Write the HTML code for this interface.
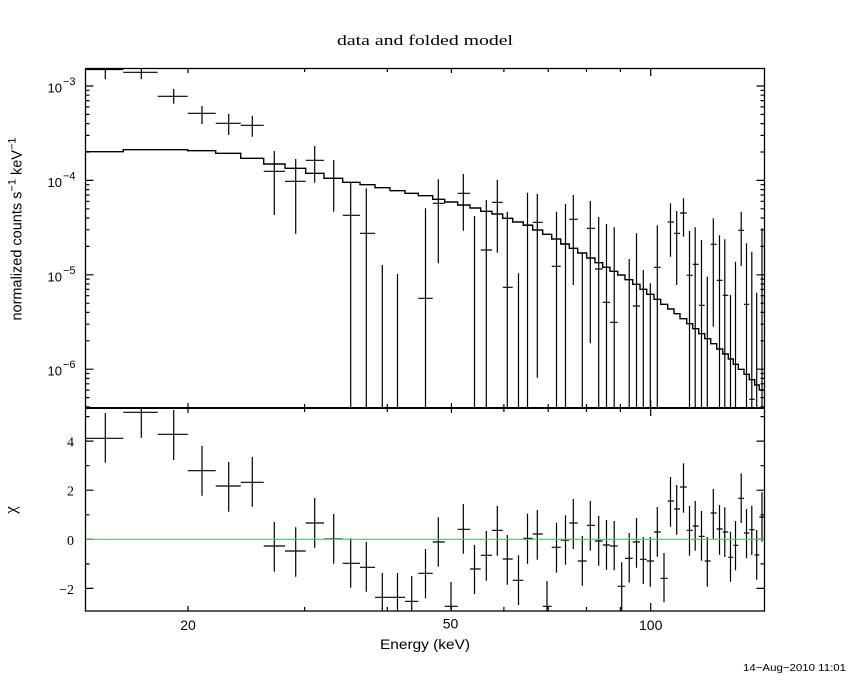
<!DOCTYPE html>
<html>
<head>
<meta charset="utf-8">
<style>
html,body{margin:0;padding:0;background:#fff;}
svg{display:block;}
text{font-family:"Liberation Sans",sans-serif;fill:#000;}
.serif{font-family:"Liberation Serif",serif;}
</style>
</head>
<body>
<svg width="850" height="680" viewBox="0 0 850 680" xmlns="http://www.w3.org/2000/svg">
<rect x="0" y="0" width="850" height="680" fill="#fff"/>

<text class="serif" x="425" y="45" text-anchor="middle" font-size="15" textLength="176" lengthAdjust="spacingAndGlyphs">data and folded model</text>

<g fill="none" stroke="#000">
<rect x="85.5" y="68.5" width="679" height="542.5" stroke-width="1.3"/>
<line x1="85.5" y1="408" x2="764.5" y2="408" stroke-width="2"/>
</g>

<g fill="none" stroke="#000" stroke-width="1.2">
<path d="M85.5 86h8M85.5 180.4h8M85.5 274.8h8M85.5 369.2h8"/>
<path d="M85.5 152h4M85.5 135.4h4M85.5 123.6h4M85.5 114.4h4M85.5 106.9h4M85.5 100.6h4M85.5 95.2h4M85.5 90.3h4M85.5 246.4h4M85.5 229.8h4M85.5 218h4M85.5 208.8h4M85.5 201.3h4M85.5 195h4M85.5 189.6h4M85.5 184.7h4M85.5 340.8h4M85.5 324.2h4M85.5 312.4h4M85.5 303.2h4M85.5 295.7h4M85.5 289.4h4M85.5 284h4M85.5 279.1h4M85.5 406.8h4M85.5 397.6h4M85.5 390.1h4M85.5 383.8h4M85.5 378.4h4M85.5 373.5h4"/>
<path d="M764.5 86h-8M764.5 180.4h-8M764.5 274.8h-8M764.5 369.2h-8"/>
<path d="M764.5 152h-4M764.5 135.4h-4M764.5 123.6h-4M764.5 114.4h-4M764.5 106.9h-4M764.5 100.6h-4M764.5 95.2h-4M764.5 90.3h-4M764.5 246.4h-4M764.5 229.8h-4M764.5 218h-4M764.5 208.8h-4M764.5 201.3h-4M764.5 195h-4M764.5 189.6h-4M764.5 184.7h-4M764.5 340.8h-4M764.5 324.2h-4M764.5 312.4h-4M764.5 303.2h-4M764.5 295.7h-4M764.5 289.4h-4M764.5 284h-4M764.5 279.1h-4M764.5 406.8h-4M764.5 397.6h-4M764.5 390.1h-4M764.5 383.8h-4M764.5 378.4h-4M764.5 373.5h-4"/>
<path d="M85.5 441.1h8M85.5 490.2h8M85.5 539.3h8M85.5 588.4h8M85.5 416.6h4M85.5 465.7h4M85.5 514.8h4M85.5 563.9h4"/>
<path d="M764.5 441.1h-8M764.5 490.2h-8M764.5 539.3h-8M764.5 588.4h-8M764.5 416.6h-4M764.5 465.7h-4M764.5 514.8h-4M764.5 563.9h-4"/>
<path d="M188 68v5M304.6 68v4M387.3 68v4M451.4 68v5M503.9 68v4M548.2 68v4M586.5 68v4M620.4 68v4M650.7 68v8"/>
<path d="M188 403v10M304.6 404v8M387.3 404v8M451.4 403v10M503.9 404v8M548.2 404v8M586.5 404v8M620.4 404v8M650.7 400v16"/>
<path d="M188 611v-5M304.6 611v-4M387.3 611v-4M451.4 611v-5M503.9 611v-4M548.2 611v-4M586.5 611v-4M620.4 611v-4M650.7 611v-8"/>
</g>

<path fill="none" stroke="#000" stroke-width="1.4" d="M85.5 151.7H123.3V149.7H187.7V150.7H215.7V153.3H240.7V158.3H263.7V164H285V168.3H305.7V173.3H324V178.3H342.7V182.3H360V184.7H375V187.7H390V190.7H405V193.3H418.3V195.7H432.7V199.3H444.7V202H457.7V205H470V208H480.7V211.3H492V214H502.7V218.3H512.7V222H523.3V225.3H532.7V230H542.7V234.3H551.7V239H560.7V244H569.3V248.3H577.7V253H586.7V258H595V262.7H602.7V267.3H610V271.3H617.7V275H625V279.7H632.7V284.3H640V289.3H646.7V294.3H654V299.3H660.7V304.3H667.7V309H674V313.7H680V318.7H686.7V323.7H692.7V328.7H698.7V333.7H704.7V338.7H710.7V343.7H716.7V349H722.7V354H728.3V359H733.3V364.3H738.3V369.3H744V374.3H749.3V379.7H754.7V385H759.3V390H764.5"/>

<path fill="none" stroke="#000" stroke-width="1.2" d="M85.5 69.5H123.3M105.3 68V79.3M123.3 72.3H157.7M141.3 68V79.3M157.7 96.3H187.7M173.7 89V103.7M187.7 113.3H215.7M202 106V124M215.7 123.3H240.7M228.7 114V135M240.7 125.3H263.7M252.3 116V136.7M263.7 171.3H285M274.3 151V215M285 181.3H305.7M295.7 159V233.7M305.7 160.3H324M314.7 146V182.7M324 178.3H342.7M333.7 160V211.7M342.7 215.3H360M350.7 181.7V408M360 233.3H375M366.3 188.3V408M382.3 265V408M397.5 274V408M418.3 298.3H432.7M425.5 208.3V408M432.7 203.3H444.7M438.3 179.3V263.3M457.7 193.3H470M463.3 174V230.7M474.5 216V408M480.7 250H492M486.3 200V408M492 202.3H502.7M497.3 180V252.7M502.7 287.3H512.7M507.3 211.7V408M518.5 273.3V408M523.3 225H532.7M527.5 192.7V408M532.7 222.3H542.7M537.3 194V377.7M551.7 266.3H560.7M556.5 211.7V408M560.7 244H569.3M565.5 204V408M569.3 219.3H577.7M573.3 195V285M582.3 252.3V408M586.7 228.3H595M590.3 201V343.3M595 269H602.7M598.7 217V408M602.7 302.3H610M606.5 224V408M610 322.3H617.7M614.2 227.3V408M629.2 259V408M632.7 306H640M636.5 233.3V408M643.3 270V408M650.3 283.3V408M654 267.3H660.7M657.3 225.3V408M667.7 222H674M670.5 203.3V256.7M674 233.3H680M676.7 211V285M680 213H686.7M683.5 198.3V236.7M686.7 275.3H692.7M689.5 231V408M692.7 264.3H698.7M695.2 227.3V408M698.7 305.3H704.7M701.5 240V408M707.3 276.7V408M710.7 244.3H716.7M713.3 218.3V326.7M716.7 280.3H722.7M719.5 235.3V408M722.7 295.3H728.3M724.8 239.3V408M730.5 295V408M735.5 261.7V408M738.3 230.3H744M741.2 211.7V266M744 304.3H749.3M746.5 243.3V408M749.3 399.3H754.7M751.8 251.7V408M756.7 292.7V408M762 228.3V408"/>

<path fill="none" stroke="#000" stroke-width="1.2" d="M85.5 438.3H123.3M105.3 413V462.7M123.3 412.3H157.7M141.3 408V437.7M157.7 434.3H187.7M173.7 410V460M187.7 470.7H215.7M202 446V495.7M215.7 486H240.7M228.7 462V511.7M240.7 482.3H263.7M252.3 457V506.7M263.7 546H285M274.3 522V571.7M285 551H305.7M295.7 527.3V576.7M305.7 523H324M314.7 498V547.7M324 539H342.7M333.7 514V563.7M342.7 563.3H360M350.7 538.3V587.7M360 567.3H375M366.3 542V591.7M375 597.3H390M382.3 573V611M390 597.3H405M397.5 573V611M405 601.3H418.3M411.7 576V611M418.3 573.3H432.7M425.5 549V598.3M432.7 542H444.7M438.3 517.3V566.7M444.7 606.3H457.7M451 582V611M457.7 529.3H470M463.3 504V553.7M470 569H480.7M474.5 545V594M480.7 555.3H492M486.3 531V580.7M492 530.3H502.7M497.3 506V555.7M502.7 559H512.7M507.3 535V584.7M512.7 580.3H523.3M518.5 555.3V605M523.3 538.3H532.7M527.5 513.7V563.7M532.7 534H542.7M537.3 510V559.7M542.7 606.3H551.7M547 581V611M551.7 547.3H560.7M556.5 522.7V572.7M560.7 540H569.3M565.5 515.3V564.7M569.3 523H577.7M573.3 499V549M577.7 561H586.7M582.3 536V585.7M586.7 525.3H595M590.3 501V550.7M595 541H602.7M598.7 516V565.7M602.7 545H610M606.5 520V569.7M610 546H617.7M614.2 521V570.3M617.7 586.3H625M621.7 562.3V611M625 558.3H632.7M629.2 533V582.7M632.7 542H640M636.5 518V567.7M640 559.3H646.7M643.3 537V584M646.7 561H654M650.3 537V586.7M654 532H660.7M657.3 507V556.7M660.7 578.3H667.7M664 553V602.3M667.7 501H674M670.5 477V526.7M674 509H680M676.7 485V534.7M680 487H686.7M683.5 463.3V512.7M686.7 530.3H692.7M689.5 506V555.7M692.7 526H698.7M695.2 501V550.7M698.7 536.3H704.7M701.5 511V560.7M704.7 561H710.7M707.3 537V586.7M710.7 513H716.7M713.3 489V538.7M716.7 529H722.7M719.5 505V554.7M722.7 532H728.3M724.8 507.3V557M728.3 557.3H733.3M730.5 531.7V581.7M733.3 545.3H738.3M735.5 521V570.3M738.3 498.3H744M741.2 473.3V523M744 533H749.3M746.5 509V558.3M749.3 529.7H754.7M751.8 505.7V555M754.7 555H759.3M756.7 530V579.7M759.3 517H764.5M762 492.3V541.7"/>

<line x1="86" y1="539.3" x2="764" y2="539.3" stroke="#00ff00" stroke-width="1.2"/>

<g font-size="13">
<text x="62" y="92.5" text-anchor="end">10</text><text x="63" y="85" font-size="11">−3</text>
<text x="62" y="186.9" text-anchor="end">10</text><text x="63" y="179.4" font-size="11">−4</text>
<text x="62" y="281.3" text-anchor="end">10</text><text x="63" y="273.8" font-size="11">−5</text>
<text x="62" y="375.7" text-anchor="end">10</text><text x="63" y="368.2" font-size="11">−6</text>
</g>

<g font-size="14" text-anchor="end">
<text class="serif" x="74" y="446.6">4</text>
<text class="serif" x="74" y="495.7">2</text>
<text class="serif" x="74" y="544.8">0</text>
<text class="serif" x="74" y="593.9">−2</text>
</g>

<text transform="translate(21.5,229) rotate(-90)" text-anchor="middle" font-size="14.5">normalized counts s<tspan dy="-6" font-size="11">−1</tspan><tspan dy="6">  keV</tspan><tspan dy="-6" font-size="11">−1</tspan></text>
<text class="serif" transform="translate(16,510) rotate(-90)" text-anchor="middle" font-size="17">χ</text>

<g font-size="14" text-anchor="middle">
<text x="188" y="630">20</text>
<text x="450.5" y="628.5">50</text>
<text x="650.7" y="630">100</text>
</g>
<text x="425" y="649" text-anchor="middle" font-size="14" textLength="90" lengthAdjust="spacingAndGlyphs">Energy  (keV)</text>

<text x="743" y="671" font-size="10.5" textLength="103" lengthAdjust="spacingAndGlyphs">14−Aug−2010 11:01</text>
</svg>
</body>
</html>
